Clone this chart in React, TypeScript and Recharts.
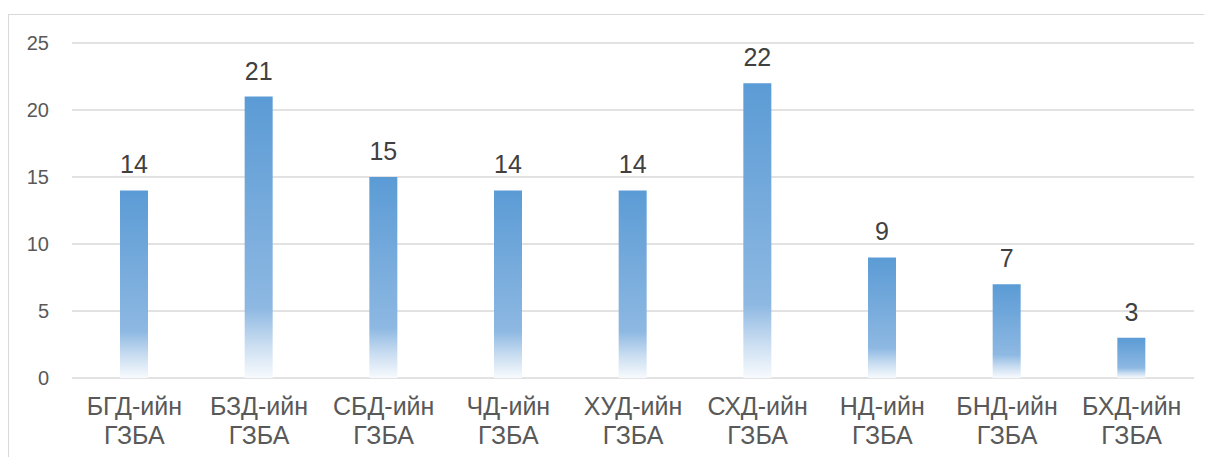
import { BarChart, Bar, XAxis, YAxis, CartesianGrid, LabelList } from "recharts";

const categories = [
    "БГД-ийн ГЗБА",
    "БЗД-ийн ГЗБА",
    "СБД-ийн ГЗБА",
    "ЧД-ийн ГЗБА",
    "ХУД-ийн ГЗБА",
    "СХД-ийн ГЗБА",
    "НД-ийн ГЗБА",
    "БНД-ийн ГЗБА",
    "БХД-ийн ГЗБА",
];
const counts = [14, 21, 15, 14, 14, 22, 9, 7, 3];
const yTicks = [0, 5, 10, 15, 20, 25];

const data = categories.map((name, i) => ({ name, value: counts[i] }));

const FONT = "'Liberation Sans', Arial, sans-serif";

function CategoryTick(props: any) {
    const { x, y, payload } = props;
    const words = String(payload.value).split(" ");
    return (
        <text x={x} y={y} textAnchor="middle" fill="#595959" fontSize={25} fontFamily={FONT}>
            {words.map((w, i) => (
                <tspan key={i} x={x} dy={i === 0 ? 29 : 29}>
                    {w}
                </tspan>
            ))}
        </text>
    );
}

export default function App() {
    return (
        <div
            style={{
                marginTop: 6,
                borderTop: "1px solid #d9d9d9",
                borderLeft: "1px solid #d9d9d9",
                width: 1204,
                height: 444,
                background: "#fff",
            }}
        >
            <BarChart
                width={1203}
                height={442}
                data={data}
                margin={{ top: 28, right: 18, bottom: 14, left: 23 }}
            >
                <defs>
                    <linearGradient id="barFill" x1="0" y1="0" x2="0" y2="1">
                        <stop offset="0%" stopColor="#5B9BD5" />
                        <stop offset="75%" stopColor="#8DB8E2" />
                        <stop offset="88%" stopColor="#C9DDF1" />
                        <stop offset="100%" stopColor="#F7FAFD" />
                    </linearGradient>
                </defs>
                <CartesianGrid vertical={false} stroke="#d9d9d9" strokeWidth={1.3} />
                <XAxis
                    dataKey="name"
                    axisLine={false}
                    tickLine={false}
                    interval={0}
                    height={65}
                    tick={<CategoryTick />}
                />
                <YAxis
                    domain={[0, 25]}
                    ticks={yTicks}
                    axisLine={false}
                    tickLine={false}
                    tickSize={0}
                    tickMargin={23}
                    width={40}
                    tick={{ fill: "#595959", fontSize: 20, fontFamily: FONT }}
                />
                <Bar dataKey="value" fill="url(#barFill)" barSize={28} isAnimationActive={false}>
                    <LabelList
                        dataKey="value"
                        position="top"
                        offset={17}
                        fill="#404040"
                        fontSize={25}
                        fontFamily={FONT}
                    />
                </Bar>
            </BarChart>
        </div>
    );
}
